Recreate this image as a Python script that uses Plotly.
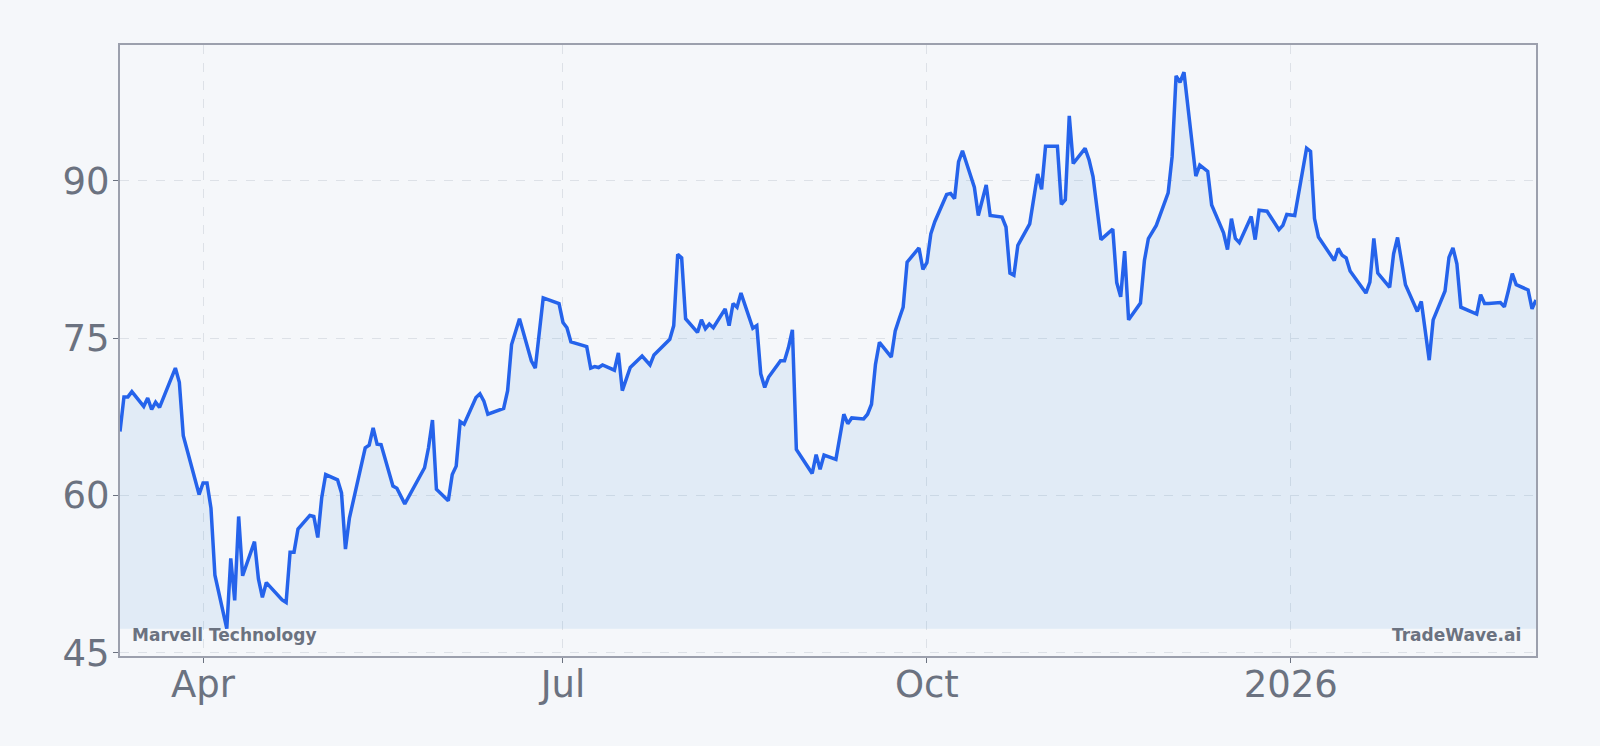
import plotly.graph_objects as go

# Marvell Technology daily close
dates = [
    "2025-03-11", "2025-03-12", "2025-03-13", "2025-03-14", "2025-03-17", "2025-03-18",
    "2025-03-19", "2025-03-20", "2025-03-21", "2025-03-25", "2025-03-26", "2025-03-27",
    "2025-03-31", "2025-04-01", "2025-04-02", "2025-04-03", "2025-04-04", "2025-04-07",
    "2025-04-08", "2025-04-09", "2025-04-10", "2025-04-11", "2025-04-14", "2025-04-15",
    "2025-04-16", "2025-04-17", "2025-04-21", "2025-04-22", "2025-04-23", "2025-04-24",
    "2025-04-25", "2025-04-28", "2025-04-29", "2025-04-30", "2025-05-01", "2025-05-02",
    "2025-05-05", "2025-05-06", "2025-05-07", "2025-05-08", "2025-05-12", "2025-05-13",
    "2025-05-14", "2025-05-15", "2025-05-16", "2025-05-19", "2025-05-20", "2025-05-22",
    "2025-05-27", "2025-05-28", "2025-05-29", "2025-05-30", "2025-06-02", "2025-06-03",
    "2025-06-04", "2025-06-05", "2025-06-06", "2025-06-09", "2025-06-10", "2025-06-11",
    "2025-06-12", "2025-06-16", "2025-06-17", "2025-06-18", "2025-06-20", "2025-06-23",
    "2025-06-24", "2025-06-25", "2025-06-26", "2025-06-30", "2025-07-01", "2025-07-02",
    "2025-07-03", "2025-07-07", "2025-07-08", "2025-07-09", "2025-07-10", "2025-07-11",
    "2025-07-14", "2025-07-15", "2025-07-16", "2025-07-18", "2025-07-21", "2025-07-23",
    "2025-07-24", "2025-07-28", "2025-07-29", "2025-07-30", "2025-07-31", "2025-08-01",
    "2025-08-04", "2025-08-05", "2025-08-06", "2025-08-07", "2025-08-08", "2025-08-11",
    "2025-08-12", "2025-08-13", "2025-08-14", "2025-08-15", "2025-08-18", "2025-08-19",
    "2025-08-20", "2025-08-21", "2025-08-22", "2025-08-25", "2025-08-26", "2025-08-27",
    "2025-08-28", "2025-08-29", "2025-09-02", "2025-09-03", "2025-09-04", "2025-09-05",
    "2025-09-08", "2025-09-10", "2025-09-11", "2025-09-12", "2025-09-15", "2025-09-16",
    "2025-09-17", "2025-09-18", "2025-09-19", "2025-09-22", "2025-09-23", "2025-09-24",
    "2025-09-25", "2025-09-26", "2025-09-29", "2025-09-30", "2025-10-01", "2025-10-02",
    "2025-10-03", "2025-10-06", "2025-10-07", "2025-10-08", "2025-10-09", "2025-10-10",
    "2025-10-13", "2025-10-14", "2025-10-16", "2025-10-17", "2025-10-20", "2025-10-21",
    "2025-10-22", "2025-10-23", "2025-10-24", "2025-10-27", "2025-10-28", "2025-10-29",
    "2025-10-30", "2025-10-31", "2025-11-03", "2025-11-04", "2025-11-05", "2025-11-06",
    "2025-11-07", "2025-11-10", "2025-11-11", "2025-11-12", "2025-11-14", "2025-11-17",
    "2025-11-18", "2025-11-19", "2025-11-20", "2025-11-21", "2025-11-24", "2025-11-25",
    "2025-11-26", "2025-11-28", "2025-12-01", "2025-12-02", "2025-12-03", "2025-12-04",
    "2025-12-05", "2025-12-08", "2025-12-09", "2025-12-11", "2025-12-12", "2025-12-15",
    "2025-12-16", "2025-12-17", "2025-12-18", "2025-12-19", "2025-12-22", "2025-12-23",
    "2025-12-24", "2025-12-26", "2025-12-29", "2025-12-30", "2025-12-31", "2026-01-02",
    "2026-01-05", "2026-01-06", "2026-01-07", "2026-01-08", "2026-01-12", "2026-01-13",
    "2026-01-14", "2026-01-15", "2026-01-16", "2026-01-20", "2026-01-21", "2026-01-22",
    "2026-01-23", "2026-01-26", "2026-01-27", "2026-01-28", "2026-01-30", "2026-02-02",
    "2026-02-03", "2026-02-04", "2026-02-05", "2026-02-06", "2026-02-09", "2026-02-10",
    "2026-02-11", "2026-02-12", "2026-02-13", "2026-02-17", "2026-02-18", "2026-02-19",
    "2026-02-20", "2026-02-23", "2026-02-24", "2026-02-25", "2026-02-26", "2026-02-27",
    "2026-03-02", "2026-03-03", "2026-03-04",
]

close = [
    66.1, 69.4, 69.4, 69.9, 68.5, 69.3,
    68.2, 68.9, 68.4, 72.15, 70.8, 65.7,
    60.1, 61.2, 61.2, 58.8, 52.4, 47.3,
    54.0, 50.0, 58.0, 52.35, 55.6, 52.05,
    50.3, 51.7, 50.05, 49.8, 54.6, 54.6,
    56.8, 58.1, 58.0, 56.0, 59.8, 62.0,
    61.5, 60.25, 54.9, 57.85, 64.55, 64.8,
    66.45, 64.9, 64.85, 60.9, 60.7, 59.2,
    62.65, 64.55, 67.2, 60.6, 59.5, 62.0,
    62.8, 67.05, 66.8, 69.35, 69.7, 69.0,
    67.75, 68.3, 70.0, 74.4, 76.85, 72.85,
    72.15, 75.9, 78.85, 78.3, 76.5, 76.0,
    74.65, 74.2, 72.15, 72.3, 72.2, 72.45,
    71.95, 73.6, 70.0, 72.2, 73.3, 72.45,
    73.4, 74.9, 76.2, 83.0, 82.65, 76.85,
    75.55, 76.75, 75.9, 76.35, 76.0, 77.8,
    76.2, 78.3, 77.95, 79.3, 75.95, 76.2,
    71.6, 70.3, 71.3, 72.85, 72.85, 74.1,
    75.8, 64.4, 62.1, 63.9, 62.5, 63.85,
    63.45, 67.75, 66.85, 67.4, 67.3, 67.75,
    68.7, 72.5, 74.6, 73.2, 75.7, 76.85,
    77.95, 82.25, 83.6, 81.55, 82.2, 84.95,
    86.1, 88.7, 88.8, 88.3, 91.8, 92.87,
    89.4, 86.7, 89.6, 86.7, 86.55, 85.6,
    81.2, 81.0, 83.85, 85.9, 88.5, 90.65,
    89.2, 93.3, 93.3, 87.75, 88.2, 96.2,
    91.65, 93.1, 92.0, 90.4, 84.4, 85.4,
    80.3, 78.95, 83.3, 76.75, 78.35, 82.4,
    84.5, 85.75, 88.85, 92.3, 100.0, 99.4,
    100.35, 90.45, 91.5, 90.9, 87.7, 85.05,
    83.45, 86.4, 84.5, 84.1, 86.6, 84.4,
    87.2, 87.1, 85.35, 85.75, 86.8, 86.7,
    93.1, 92.8, 86.4, 84.65, 82.4, 83.55,
    82.9, 82.65, 81.4, 79.3, 80.35, 84.5,
    81.2, 79.85, 83.05, 84.6, 80.1, 77.55,
    78.5, 75.7, 72.9, 76.75, 79.5, 82.7,
    83.6, 82.1, 77.95, 77.3, 79.15, 78.3,
    78.3, 78.4, 78.0, 79.5, 81.15, 80.1,
    79.6, 77.8, 78.65,
]

x_tickvals = ["2025-04-01", "2025-07-01", "2025-10-01", "2026-01-01"]
x_ticktext = ["Apr", "Jul", "Oct", "2026"]
y_tickvals = [45, 60, 75, 90]

company = "Marvell Technology"
brand = "TradeWave.ai"

BG = "#f5f7fa"
GRAY = "#6b7280"
FONT = "DejaVu Sans"

fig = go.Figure()

# invisible floor at the lowest close so the fill stops there
floor = [min(close)] * len(dates)
fig.add_trace(go.Scatter(
    x=dates, y=floor, mode="lines",
    line=dict(width=0, color="rgba(0,0,0,0)"),
    hoverinfo="skip", showlegend=False
))

fig.add_trace(go.Scatter(
    x=dates, y=close, mode="lines", name=company,
    line=dict(color="#2563eb", width=3.5),
    fill="tonexty", fillcolor="rgba(50,140,220,0.1)",
    showlegend=False
))

axis_common = dict(
    showgrid=True, gridcolor="#dde1e7", griddash="dash", gridwidth=1,
    showline=True, linecolor="#9ca0ad", linewidth=2, mirror=True,
    ticks="outside", ticklen=5, tickcolor=GRAY,
    tickfont=dict(family=FONT, size=37, color=GRAY),
    zeroline=False,
)

fig.update_xaxes(
    tickvals=x_tickvals, ticktext=x_ticktext,
    range=[dates[0], dates[-1]], ticklabelstandoff=-10,
    **axis_common
)
fig.update_yaxes(
    tickvals=y_tickvals, range=[44.7, 102.95], ticklabelstandoff=-4,
    **axis_common
)

fig.add_annotation(
    text=f"<b>{company}</b>", xref="paper", yref="paper",
    x=0, y=0, xanchor="left", yanchor="bottom", xshift=10, yshift=9,
    showarrow=False, font=dict(family=FONT, size=17, color=GRAY)
)
fig.add_annotation(
    text=f"<b>{brand}</b>", xref="paper", yref="paper",
    x=1, y=0, xanchor="right", yanchor="bottom", xshift=-13, yshift=9,
    showarrow=False, font=dict(family=FONT, size=17, color=GRAY)
)

fig.update_layout(
    width=1600, height=746,
    margin=dict(l=120, r=64, t=45, b=90),
    paper_bgcolor=BG, plot_bgcolor=BG,
    font=dict(family=FONT, color=GRAY),
    showlegend=False,
)

fig.write_html(
    "out.html",
    config={"displayModeBar": False},
    post_script="document.body.style.margin='0';document.body.style.overflow='hidden';"
)
